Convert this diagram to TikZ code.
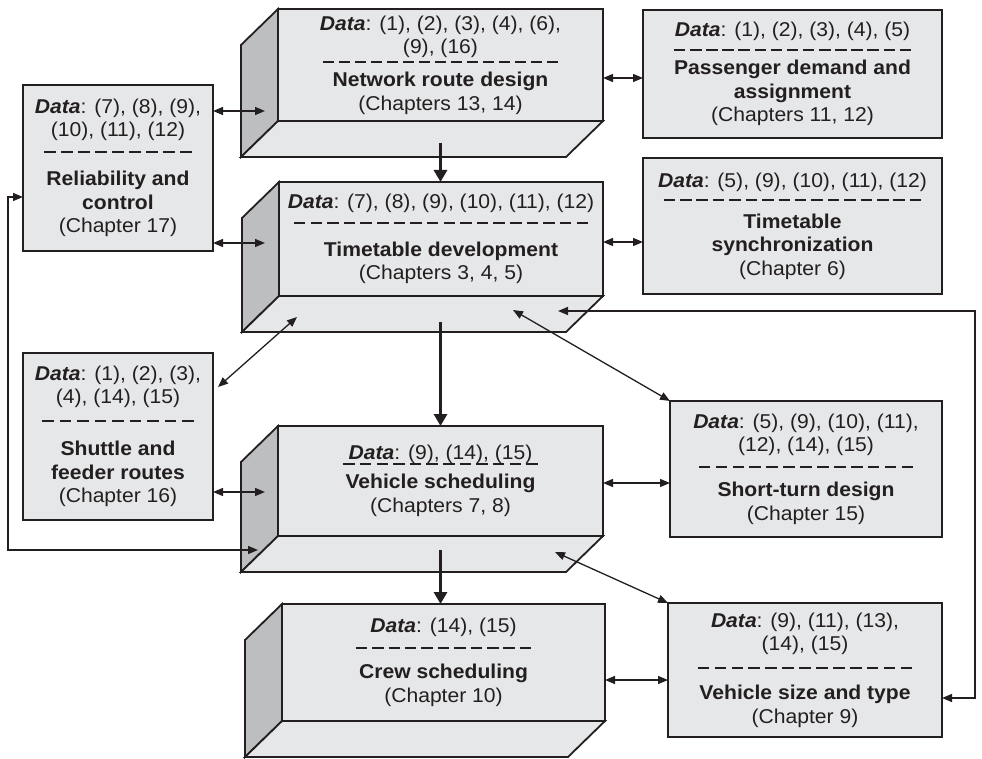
\documentclass[tikz,border=0pt]{standalone}
\usepackage{fontspec}
\setmainfont{Liberation Sans}[FakeStretch=1.055]
\usetikzlibrary{arrows.meta}
\pgfdeclarelayer{background}
\pgfsetlayers{background,main}
\definecolor{ink}{HTML}{231F20}
\definecolor{facegray}{HTML}{E6E7E8}
\definecolor{sidegray}{HTML}{BCBEC0}
% dashed separator of a given width (in pt)
\newcommand\dashrule[1]{\hbox to #1pt{\xleaders\hbox to 16pt{\hss\vrule height 1.1pt depth 0.9pt width 11.5pt\hss}\hfill}}
\newcommand\dlabel{\textbf{\textit{Data}}}
% side and bottom faces behind a front face node
\newcommand\extrude[1]{%
  \begin{pgfonlayer}{background}
    \filldraw[facepath, fill=sidegray] (#1.north west) -- ++(-37,36)
      -- ([shift={(-37,36)}]#1.south west) -- (#1.south west) -- cycle;
    \filldraw[facepath, fill=facegray] (#1.south west)
      -- ([shift={(-37,36)}]#1.south west) -- ([shift={(-37,36)}]#1.south east)
      -- (#1.south east) -- cycle;
  \end{pgfonlayer}}
\tikzset{
  box/.style={draw=ink, line width=1.8pt, fill=facegray, inner sep=0pt, outer sep=0pt,
    align=center, text=ink, font=\fontsize{20}{23.5}\selectfont},
  facepath/.style={draw=ink, line width=1.8pt},
  link/.style={draw=ink, line width=1.3pt,
    {Triangle[length=10pt,width=8pt]}-{Triangle[length=10pt,width=8pt]}},
  flow/.style={draw=ink, line width=3.3pt, -{Triangle[length=12pt,width=13pt]}},
}
\begin{document}
\begin{tikzpicture}[x=1pt, y=-1pt]
\useasboundingbox (0,0) rectangle (982,759);

% central stack of stages
\node[box, minimum width=325pt, minimum height=112pt] (net) at (440.5,65)
  {\dlabel: (1), (2), (3), (4), (6),\\(9), (16)\\[-15.5pt]\dashrule{240}\\[1.5pt]\textbf{Network route design}\\(Chapters 13, 14)};
\node[box, minimum width=324pt, minimum height=114pt] (tt) at (441,239)
  {\dlabel: (7), (8), (9), (10), (11), (12)\\[-8.5pt]\dashrule{300}\\[9.5pt]\textbf{Timetable development}\\(Chapters 3, 4, 5)};
\node[box, minimum width=325pt, minimum height=110pt] (vs) at (440.5,481)
  {\dlabel: (9), (14), (15)\\[-19.5pt]\dashrule{200}\\[1.5pt]\textbf{Vehicle scheduling}\\(Chapters 7, 8)};
\node[box, minimum width=323pt, minimum height=117pt] (crew) at (443.5,662.5)
  {\dlabel: (14), (15)\\[-8.5pt]\dashrule{181}\\[7.5pt]\textbf{Crew scheduling}\\(Chapter 10)};
\extrude{net}
\extrude{tt}
\extrude{vs}
\extrude{crew}

% side activities
\node[box, minimum width=299pt, minimum height=128pt] (pass) at (792.5,74)
  {\dlabel: (1), (2), (3), (4), (5)\\[-10.5pt]\dashrule{242}\\[1.5pt]\textbf{Passenger demand and}\\\textbf{assignment}\\(Chapters 11, 12)};
\node[box, minimum width=299pt, minimum height=136pt] (sync) at (792.5,226)
  {\dlabel: (5), (9), (10), (11), (12)\\[-10.5pt]\dashrule{263}\\[4.5pt]\textbf{Timetable}\\\textbf{synchronization}\\(Chapter 6)};
\node[box, minimum width=190pt, minimum height=166pt] (rel) at (118,168)
  {\dlabel: (7), (8), (9),\\(10), (11), (12)\\[-8.5pt]\dashrule{154}\\[10.5pt]\textbf{Reliability and}\\\textbf{control}\\(Chapter 17)};
\node[box, minimum width=190pt, minimum height=167pt] (shut) at (118,436.5)
  {\dlabel: (1), (2), (3),\\(4), (14), (15)\\[-6.5pt]\dashrule{159}\\[11.5pt]\textbf{Shuttle and}\\\textbf{feeder routes}\\(Chapter 16)};
\node[box, minimum width=272pt, minimum height=136pt] (short) at (806,469)
  {\dlabel: (5), (9), (10), (11),\\(12), (14), (15)\\[-8.5pt]\dashrule{221}\\[6.5pt]\textbf{Short-turn design}\\(Chapter 15)};
\node[box, minimum width=274pt, minimum height=134pt] (vsize) at (805,670)
  {\dlabel: (9), (11), (13),\\(14), (15)\\[-6.5pt]\dashrule{221}\\[8.5pt]\textbf{Vehicle size and type}\\(Chapter 9)};

% points on the extruded faces
\coordinate (netL) at (265,111);
\coordinate (ttL) at (265,243);
\coordinate (vsL) at (265,492);
\coordinate (vsL2) at (258,550);
\coordinate (ttB1) at (297,317);
\coordinate (ttB2) at (513,310);
\coordinate (ttB3) at (558,311);
\coordinate (vsB) at (555,552);
\coordinate (shutT) at (218,387);
\coordinate (lloop) at (8,550);
\coordinate (rloop) at (975,698);

% main sequence
\draw[flow] ([yshift=-22pt]net.south) -- (net.south |- tt.north);
\draw[flow] ([yshift=-26pt]net.south |- tt.south) -- (net.south |- vs.north);
\draw[flow] ([yshift=-14pt]net.south |- vs.south) -- (net.south |- crew.north);

% two-way interactions
\draw[link] ([yshift=-13pt]net.east) -- ([yshift=-4pt]pass.west);
\draw[link] ([yshift=-3pt]tt.east) -- ([yshift=-16pt]sync.west);
\draw[link] ([yshift=57pt]rel.east) -- (netL);
\draw[link] ([yshift=-75pt]rel.east) -- (ttL);
\draw[link] ([yshift=-29pt]rel.west) -| (lloop) -- (vsL2);
\draw[link] (shutT) -- (ttB1);
\draw[link] ([yshift=-55.5pt]shut.east) -- (vsL);
\draw[link] (ttB2) -- (short.north west);
\draw[link] ([yshift=-2pt]vs.east) -- ([yshift=-14pt]short.west);
\draw[link] (ttB3) -| (rloop) -- ([yshift=-28pt]vsize.east);
\draw[link] (vsB) -- (vsize.north west);
\draw[link] ([yshift=-17.5pt]crew.east) -- ([yshift=-10pt]vsize.west);
\end{tikzpicture}
\end{document}
